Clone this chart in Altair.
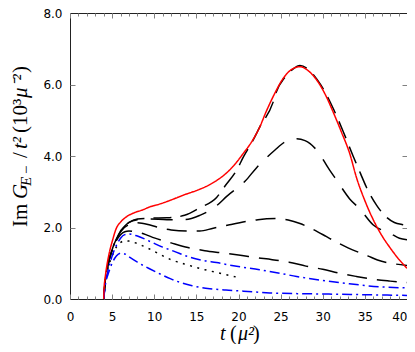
import altair as alt
import pandas as pd

# ---------------- data ----------------
red_t = [4, 4.05, 4.15, 4.3, 4.5, 4.75, 5, 5.5, 6, 6.7, 7.5, 8.7, 9.5, 10.7, 12, 13.4, 15.4, 16.6,
         17.5, 18.6, 19.5, 20.5, 21.7, 22.5, 23.3, 24.3, 25.3, 26.3, 27.3, 28.3, 29.3, 30.3, 31.2,
         32.2, 33.2, 34, 35, 36.2, 37, 38, 39, 40]
red_v = [0, 0.32, 0.55, 0.82, 1.1, 1.38, 1.6, 1.98, 2.15, 2.3, 2.4, 2.5, 2.58, 2.66, 2.77, 2.9, 3.07, 3.2,
         3.33, 3.53, 3.75, 4.05, 4.45, 4.8, 5.25, 5.75, 6.17, 6.42, 6.5, 6.38, 6.12, 5.72, 5.25,
         4.68, 4.07, 3.4, 2.75, 2.12, 1.78, 1.43, 1.12, 0.86]

a_t = [4, 4.2, 4.5, 5, 5.5, 6, 6.5, 7, 8, 9.5, 11.5, 13.6, 15.4, 17.4, 18.4, 19.8, 20.6, 21.7, 22.5,
       24.1, 24.5, 25.5, 26.5, 27.3, 28.3, 29.3, 30.3, 31.3, 32.4, 33.6, 34.5, 35.2, 36.4, 37.6,
       38.5, 39.5, 40]
a_v = [0, 0.55, 0.95, 1.38, 1.68, 1.9, 2.04, 2.14, 2.24, 2.26, 2.27, 2.34, 2.55, 2.84, 3.16, 3.61, 3.98,
       4.43, 4.8, 5.5, 5.8, 6.2, 6.44, 6.53, 6.42, 6.15, 5.78, 5.3, 4.7, 4.0, 3.5, 3.12, 2.62, 2.28,
       2.14, 2.08, 2.06]

b_t = [4, 4.2, 4.5, 5, 5.5, 6, 6.5, 7, 8, 9.5, 11.5, 13.6, 15.4, 17.4, 18.6, 20.8, 22.1, 24.3, 25.5,
       26.9, 27.9, 29.3, 30.8, 31.6, 33.2, 34.4, 36, 38, 39.1, 40]
b_v = [0, 0.55, 0.95, 1.38, 1.68, 1.9, 2.04, 2.14, 2.22, 2.24, 2.22, 2.22, 2.34, 2.61, 2.87, 3.3, 3.66,
       4.16, 4.39, 4.48, 4.43, 4.16, 3.61, 3.34, 2.8, 2.52, 2.07, 1.84, 1.70, 1.66]

c_t = [4, 4.2, 4.5, 5, 5.5, 6, 7, 8, 9.5, 11, 12, 14, 15.4, 17, 18.8, 21.2, 22.3, 24.5, 25.9, 27.3,
       28.2, 29.4, 30.4, 31.8, 33, 35.4, 36.5, 38.6, 40]
c_v = [0, 0.55, 0.95, 1.37, 1.66, 1.88, 2.08, 2.13, 2.07, 1.97, 1.93, 1.9, 1.9, 1.98, 2.07, 2.18, 2.22,
       2.25, 2.21, 2.11, 2.02, 1.88, 1.75, 1.57, 1.43, 1.2, 1.09, 0.98, 0.94]

d_t = [4, 4.2, 4.5, 5, 5.5, 6, 6.5, 7, 8, 9, 10, 12, 14, 16, 18, 20, 22, 24, 26, 28, 30, 32, 34, 36,
       38, 40]
d_v = [0, 0.55, 0.95, 1.36, 1.63, 1.8, 1.88, 1.9, 1.87, 1.8, 1.71, 1.57, 1.44, 1.35, 1.29, 1.23, 1.16,
       1.1, 1.03, 0.92, 0.83, 0.72, 0.63, 0.55, 0.5, 0.46]

dot_t = [4, 4.2, 4.5, 5, 5.5, 6, 6.5, 7, 8, 9, 10, 12, 14, 16, 18, 20]
dot_v = [0, 0.5, 0.85, 1.2, 1.45, 1.58, 1.63, 1.62, 1.55, 1.45, 1.33, 1.1, 0.95, 0.82, 0.71, 0.6]

b1_t = [4, 4.2, 4.5, 5, 5.5, 6, 6.5, 7, 8, 9.5, 11, 12.3, 14.2, 15.8, 17.4, 19.4, 22.5, 24.9, 26.9,
        30, 33, 36.8, 40]
b1_v = [0, 0.45, 0.78, 1.2, 1.5, 1.7, 1.8, 1.82, 1.76, 1.61, 1.45, 1.34, 1.17, 1.08, 1.02, 0.93, 0.82,
        0.72, 0.63, 0.52, 0.43, 0.34, 0.31]

b2_t = [4, 4.2, 4.5, 4.75, 5, 5.5, 6, 6.5, 7, 8, 9.5, 10.7, 11.9, 13, 14.5, 16.6, 18.5, 20.6, 23.7,
        27, 30, 35, 40]
b2_v = [0, 0.4, 0.68, 0.85, 1.0, 1.2, 1.28, 1.26, 1.18, 1.03, 0.84, 0.7, 0.57, 0.47, 0.37, 0.29, 0.25,
        0.22, 0.17, 0.15, 0.14, 0.12, 0.1]

x_labels = [0, 5, 10, 15, 20, 25, 30, 35]
x_last_label = [40]
y_labels = [0, 2, 4, 6, 8]

# ---------------- styles ----------------
series = [
    ("1A", a_t, a_v, "black", [18, 9], 1.5),
    ("2B", b_t, b_v, "black", [22, 13], 1.5),
    ("3C", c_t, c_v, "black", [20, 10], 1.5),
    ("4D", d_t, d_v, "black", [20, 10], 1.5),
    ("5dot", dot_t, dot_v, "black", [2, 5.5], 2.0),
    ("6b1", b1_t, b1_v, "#0000ff", [10, 4, 2, 4], 1.4),
    ("7b2", b2_t, b2_v, "#0000ff", [10, 4, 2, 4], 1.4),
    ("8red", red_t, red_v, "#ff0000", [1, 0], 1.3),
]

rows = []
for name, ts, vs, *_ in series:
    for i, (t, v) in enumerate(zip(ts, vs)):
        rows.append({"series": name, "t": t, "v": v, "ord": i})
df = pd.DataFrame(rows)

names = [s[0] for s in series]
xs = alt.Scale(domain=[0, 40], nice=False, zero=False)
ys = alt.Scale(domain=[0, 8], nice=False, zero=False)
LBL = dict(labelFont="DejaVu Sans", labelFontSize=12, labelColor="black",
           labelFlush=False, labelOverlap=False)

lines = alt.Chart(df).mark_line(interpolate="monotone").encode(
    x=alt.X("t:Q", scale=xs, axis=alt.Axis(orient="bottom", values=x_labels, ticks=False, tickSize=0,
                                           domain=False, grid=False, labelPadding=12, title=None, **LBL)),
    y=alt.Y("v:Q", scale=ys, axis=alt.Axis(orient="left", values=y_labels, format=".1f", ticks=False,
                                           tickSize=0, domain=False, grid=False, labelPadding=8,
                                           title=None, **LBL)),
    color=alt.Color("series:N", scale=alt.Scale(domain=names, range=[s[3] for s in series]), legend=None),
    strokeDash=alt.StrokeDash("series:N", scale=alt.Scale(domain=names, range=[s[4] for s in series]),
                              legend=None),
    strokeWidth=alt.StrokeWidth("series:N", scale=alt.Scale(domain=names, range=[s[5] for s in series]),
                                legend=None),
    order="ord:Q",
)

dummy = alt.Chart(pd.DataFrame({"t": [0, 40], "v": [0, 8]})).mark_point(opacity=0)

# last x label, right-aligned so it stays inside the page
last_label = dummy.encode(
    x=alt.X("t:Q", scale=xs, axis=alt.Axis(orient="bottom", values=x_last_label, ticks=False, tickSize=0,
                                           domain=False, grid=False, labelPadding=12, title=None,
                                           labelAlign="right", **LBL)),
    y=alt.Y("v:Q", scale=ys, axis=None),
)

TICK = dict(labels=False, domain=False, grid=False, title=None, ticks=True, tickColor="#808080")
x_major = list(range(0, 41, 5))
x_minor = list(range(0, 41, 1))
y_major = [2, 4, 6]


def tick_layer(xorient, xoff, xvals, xsize, yorient=None):
    yax = None
    if yorient:
        yax = alt.Axis(orient=yorient, offset=-5, values=y_major, tickSize=5, **TICK)
    return dummy.encode(
        x=alt.X("t:Q", scale=xs, axis=alt.Axis(orient=xorient, offset=xoff, values=xvals,
                                               tickSize=xsize, **TICK)),
        y=alt.Y("v:Q", scale=ys, axis=yax),
    )


ticks = [
    tick_layer("bottom", -5, x_major, 5, "left"),
    tick_layer("bottom", -3, x_minor, 3, "right"),
    tick_layer("top", -5, x_major, 5),
    tick_layer("top", -3, x_minor, 3),
]

one = pd.DataFrame({"a": [0]})


def txt(s, x, y, size=21, italic=False, angle=0):
    return alt.Chart(one).mark_text(
        text=s, font="Liberation Serif", fontSize=size, fontStyle="italic" if italic else "normal",
        angle=angle, align="left", baseline="alphabetic", color="black",
    ).encode(x=alt.value(x), y=alt.value(y))


# plot origin is at page (70, 13)
OY = 13
ybase = -43
ytitle = [
    txt("Im", ybase, 227 - OY, angle=270),
    txt("G", ybase, 199 - OY, italic=True, angle=270),
    txt("E", ybase + 4, 186 - OY, size=15, italic=True, angle=270),
    txt("\u2212", ybase + 4, 174 - OY, size=15, angle=270),
    txt("/", ybase, 158 - OY, angle=270),
    txt("t\u00b2", ybase, 149 - OY, italic=True, angle=270),
    txt("(10\u00b3", ybase, 133 - OY, angle=270),
    txt("\u03bc\u207b\u00b2", ybase, 98 - OY, italic=True, angle=270),
    txt(")", ybase, 73 - OY, angle=270),
]
XB = 340 - OY
xtitle = [
    txt("t", 150, XB, size=20, italic=True),
    txt("(", 160, XB, size=20),
    txt("\u03bc\u00b2", 168, XB, size=20, italic=True),
    txt(")", 183, XB, size=20),
]

chart = alt.layer(lines, last_label, *ticks, *ytitle, *xtitle).resolve_axis(
    x="independent", y="independent"
).properties(
    width=337, height=286,
    autosize=alt.AutoSizeParams(type="none"),
    padding={"left": 62, "top": 5, "right": 0, "bottom": 45},
    background="white",
).configure_view(stroke="#222222", strokeWidth=1)

chart.save("out.html", embed_options={"renderer": "svg", "actions": False})
